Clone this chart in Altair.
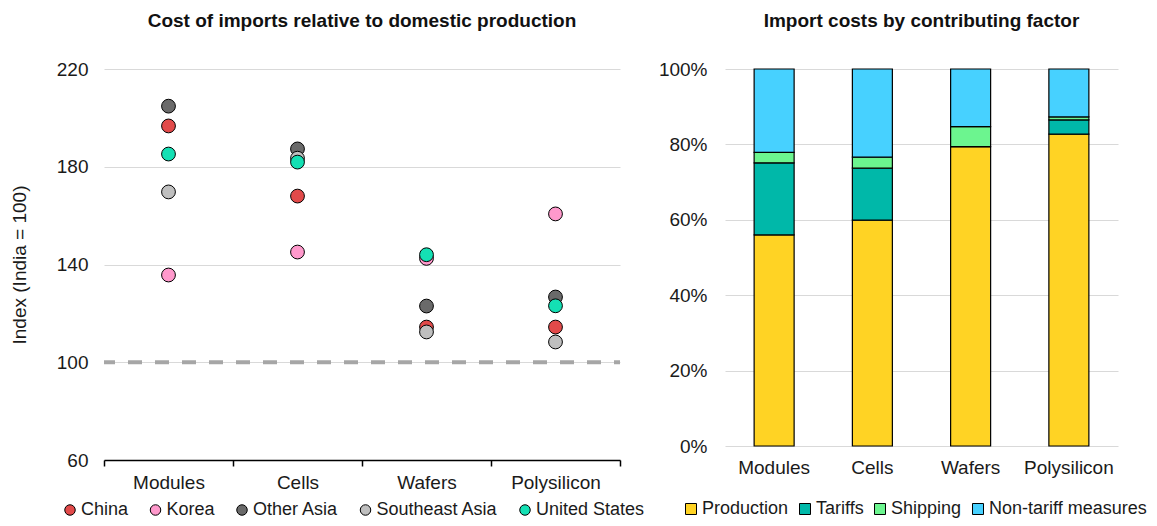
import altair as alt
import pandas as pd

# ---- Left panel data: index (India = 100) ----
products = ["Modules", "Cells", "Wafers", "Polysilicon"]
regions = ["China", "Korea", "Other Asia", "Southeast Asia", "United States"]
china = [196.7, 168.0, 114.4, 114.4]
korea = [135.7, 145.1, 142.5, 160.7]
other_asia = [204.8, 187.3, 123.0, 126.7]
southeast_asia = [169.7, 183.5, 112.4, 108.3]
united_states = [185.2, 181.9, 144.0, 123.1]
region_colors = ["#E24A4A", "#FF99CC", "#6A6A6A", "#BFBFBF", "#14E0B4"]
y_ticks = [60, 100, 140, 180, 220]
baseline = [100]

# ---- Right panel data: share of import cost (%) ----
factors = ["Production", "Tariffs", "Shipping", "Non-tariff measures"]
production = [56.0, 59.9, 79.4, 82.7]
tariffs = [19.1, 13.8, 0.0, 3.8]
shipping = [2.8, 2.9, 5.3, 0.8]
non_tariff = [22.1, 23.4, 15.3, 12.7]
factor_colors = ["#FFD324", "#00B8A9", "#6CF58F", "#47D1FF"]
pct_ticks = [0, 20, 40, 60, 80, 100]

FONT = "Liberation Sans"
FS = 19
LFS = 18

series = [china, korea, other_asia, southeast_asia, united_states]
rows = []
for r, vals in zip(regions, series):
    for p, v in zip(products, vals):
        rows.append({"product": p, "region": r, "value": v})
df_pts = pd.DataFrame(rows)

rows2 = []
for i, (f, vals) in enumerate(zip(factors, [production, tariffs, shipping, non_tariff])):
    for p, v in zip(products, vals):
        rows2.append({"product": p, "factor": f, "share": v, "ord": i})
df_bars = pd.DataFrame(rows2)

x_left = alt.X(
    "product:N", sort=products, title=None,
    scale=alt.Scale(type="band", domain=products, paddingInner=0, paddingOuter=0),
    axis=alt.Axis(labelAngle=0, labelFontSize=FS, labelColor="#1a1a1a", labelPadding=7,
                  domainColor="black", domainWidth=1.5, tickColor="black", tickWidth=1.5,
                  tickSize=6, tickBand="extent", grid=False),
)
y_left = alt.Y(
    "value:Q", title="Index (India = 100)",
    scale=alt.Scale(domain=[60, 220], nice=False, zero=False),
    axis=alt.Axis(values=y_ticks, labelFontSize=FS, labelColor="#1a1a1a", labelPadding=16,
                  ticks=False, domain=False, gridColor="#D9D9D9", gridWidth=1,
                  titleFontSize=FS, titleFontWeight="normal", titleColor="#1a1a1a",
                  titlePadding=27),
)

rule = alt.Chart(pd.DataFrame({"y": baseline})).mark_rule(
    color="#A6A6A6", strokeWidth=4, strokeDash=[14, 13], strokeDashOffset=8
).encode(y=alt.Y("y:Q", scale=alt.Scale(domain=[60, 220])))

points = alt.Chart(df_pts).mark_circle(
    size=190, stroke="black", strokeWidth=1, opacity=1
).encode(
    x=x_left,
    y=y_left,
    color=alt.Color(
        "region:N",
        scale=alt.Scale(domain=regions, range=region_colors),
        legend=alt.Legend(
            title=None, orient="none", legendX=-43, legendY=432, direction="horizontal",
            columns=5, symbolType="circle", symbolSize=110, symbolStrokeColor="black",
            symbolStrokeWidth=1, symbolOpacity=1, labelFontSize=LFS, labelColor="#1a1a1a",
            labelOffset=2, columnPadding=17.5, labelLimit=300,
        ),
    ),
)

left = alt.layer(rule, points).properties(
    width=516, height=391,
    title=alt.Title("Cost of imports relative to domestic production"),
)

bars = alt.Chart(df_bars).mark_bar(size=40, stroke="black", strokeWidth=1.2).encode(
    x=alt.X(
        "product:N", sort=products, title=None,
        scale=alt.Scale(domain=products, paddingInner=0, paddingOuter=0),
        axis=alt.Axis(labelAngle=0, labelFontSize=FS, labelColor="#1a1a1a", labelPadding=12,
                      domain=False, ticks=False, grid=False),
    ),
    y=alt.Y(
        "share:Q", stack="zero", title=None,
        scale=alt.Scale(domain=[0, 100], nice=False),
        axis=alt.Axis(values=pct_ticks, labelExpr="datum.value + '%'", labelFontSize=FS,
                      labelColor="#1a1a1a", labelPadding=18, ticks=False, domain=False,
                      gridColor="#D9D9D9", gridWidth=1),
    ),
    color=alt.Color(
        "factor:N",
        scale=alt.Scale(domain=factors, range=factor_colors),
        legend=alt.Legend(
            title=None, orient="none", legendX=-43, legendY=431, direction="horizontal",
            columns=4, symbolType="square", symbolSize=121, symbolStrokeColor="black",
            symbolStrokeWidth=1, symbolOpacity=1, labelFontSize=LFS, labelColor="#1a1a1a",
            labelOffset=2, columnPadding=7, labelLimit=300,
        ),
    ),
    order=alt.Order("ord:Q"),
).properties(
    width=393, height=377,
    title=alt.Title("Import costs by contributing factor"),
)

chart = alt.hconcat(left, bars, spacing=105, bounds="flush").resolve_scale(
    color="independent"
).properties(
    padding={"left": 2, "top": 4, "right": 0, "bottom": 0}
).configure(
    font=FONT
).configure_view(
    stroke=None
).configure_title(
    fontSize=FS, fontWeight="bold", color="#111111", font=FONT, offset=29, anchor="middle"
)

chart.save("out.html", embed_options={"renderer": "svg", "actions": False})
